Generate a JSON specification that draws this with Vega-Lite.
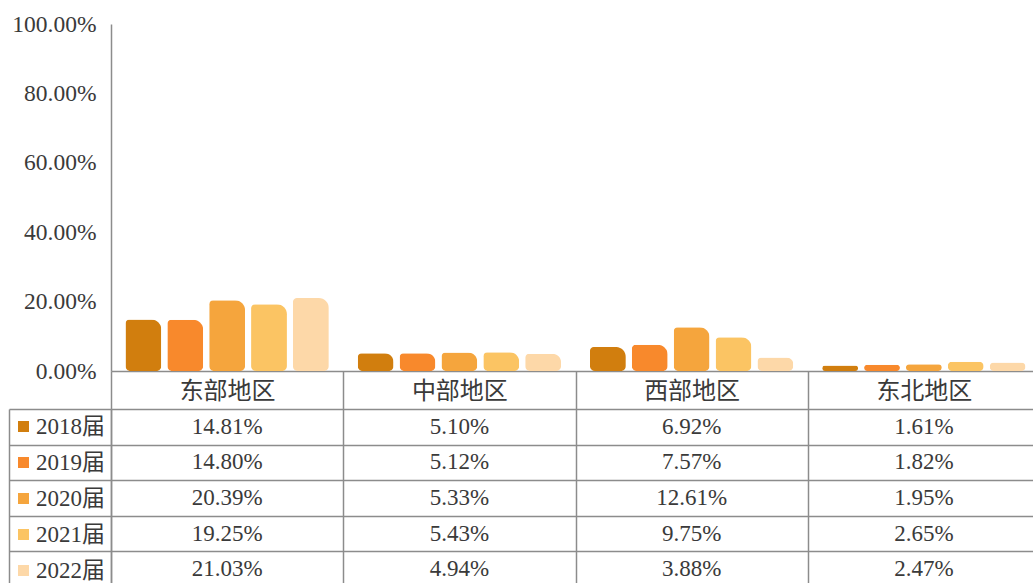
{
  "$schema": "https://vega.github.io/schema/vega-lite/v6.json",
  "background": "white",
  "padding": {"left": 8, "top": 12, "right": 0, "bottom": 0},
  "bounds": "flush",
  "spacing": 38,
  "data": {
    "values": [
      {"region": "东部地区", "year": "2018届", "value": 0.1481},
      {"region": "东部地区", "year": "2019届", "value": 0.1480},
      {"region": "东部地区", "year": "2020届", "value": 0.2039},
      {"region": "东部地区", "year": "2021届", "value": 0.1925},
      {"region": "东部地区", "year": "2022届", "value": 0.2103},
      {"region": "中部地区", "year": "2018届", "value": 0.0510},
      {"region": "中部地区", "year": "2019届", "value": 0.0512},
      {"region": "中部地区", "year": "2020届", "value": 0.0533},
      {"region": "中部地区", "year": "2021届", "value": 0.0543},
      {"region": "中部地区", "year": "2022届", "value": 0.0494},
      {"region": "西部地区", "year": "2018届", "value": 0.0692},
      {"region": "西部地区", "year": "2019届", "value": 0.0757},
      {"region": "西部地区", "year": "2020届", "value": 0.1261},
      {"region": "西部地区", "year": "2021届", "value": 0.0975},
      {"region": "西部地区", "year": "2022届", "value": 0.0388},
      {"region": "东北地区", "year": "2018届", "value": 0.0161},
      {"region": "东北地区", "year": "2019届", "value": 0.0182},
      {"region": "东北地区", "year": "2020届", "value": 0.0195},
      {"region": "东北地区", "year": "2021届", "value": 0.0265},
      {"region": "东北地区", "year": "2022届", "value": 0.0247}
    ]
  },
  "resolve": {"legend": {"color": "independent"}},
  "vconcat": [
    {
      "width": 929,
      "height": 347,
      "mark": {
        "type": "bar",
        "cornerRadiusTopLeft": 4,
        "cornerRadiusTopRight": 10,
        "cornerRadiusBottomLeft": 5,
        "cornerRadiusBottomRight": 5
      },
      "encoding": {
        "x": {
          "field": "region",
          "type": "nominal",
          "sort": ["东部地区", "中部地区", "西部地区", "东北地区"],
          "scale": {"paddingInner": 0, "paddingOuter": 0},
          "axis": {
            "title": null,
            "labelAngle": 0,
            "labelFont": "Noto Sans CJK SC",
            "labelFontSize": 24,
            "labelColor": "#3a3a3a",
            "labelPadding": -30,
            "tickBand": "extent",
            "tickSize": 38,
            "tickColor": "#8c8c8c",
            "tickWidth": 1.5,
            "domainColor": "#8c8c8c",
            "domainWidth": 1.5,
            "grid": false,
            "minExtent": 38,
            "maxExtent": 38
          }
        },
        "xOffset": {
          "field": "year",
          "type": "nominal",
          "scale": {"paddingInner": 0.143, "paddingOuter": 0.345}
        },
        "y": {
          "field": "value",
          "type": "quantitative",
          "scale": {"domain": [0, 1], "nice": false},
          "axis": {
            "title": null,
            "values": [0, 0.2, 0.4, 0.6, 0.8, 1],
            "format": ".2%",
            "labelFont": "Liberation Serif",
            "labelFontSize": 23.5,
            "labelColor": "#3a3a3a",
            "labelPadding": 15,
            "ticks": false,
            "tickSize": 0,
            "grid": false,
            "domainColor": "#8c8c8c",
            "domainWidth": 1.5
          }
        },
        "color": {
          "field": "year",
          "type": "nominal",
          "scale": {
            "domain": ["2018届", "2019届", "2020届", "2021届", "2022届"],
            "range": ["#D17E0E", "#F8892C", "#F5A53D", "#FBC463", "#FDD8A8"]
          },
          "legend": {
            "orient": "none",
            "legendX": -99,
            "legendY": 391,
            "title": null,
            "symbolType": "square",
            "symbolSize": 121,
            "symbolStrokeWidth": 0,
            "symbolOpacity": 1,
            "labelFont": "Liberation Serif, Noto Sans CJK SC",
            "labelFontSize": 23,
            "labelColor": "#3a3a3a",
            "labelOffset": 1,
            "rowPadding": 12,
            "padding": 0
          }
        }
      }
    },
    {
      "width": 929,
      "height": 178,
      "encoding": {
        "x": {
          "field": "region",
          "type": "nominal",
          "sort": ["东部地区", "中部地区", "西部地区", "东北地区"],
          "scale": {"paddingInner": 0, "paddingOuter": 0},
          "axis": {
            "title": null,
            "labels": false,
            "ticks": false,
            "domain": false,
            "grid": true,
            "tickBand": "extent",
            "gridColor": "#8c8c8c",
            "gridWidth": 1.5,
            "gridOpacity": 1
          }
        },
        "y": {
          "field": "year",
          "type": "nominal",
          "sort": ["2018届", "2019届", "2020届", "2021届", "2022届"],
          "scale": {"paddingInner": 0, "paddingOuter": 0}
        }
      },
      "layer": [
        {
          "mark": {
            "type": "text",
            "font": "Liberation Serif",
            "fontSize": 23,
            "color": "#3a3a3a"
          },
          "encoding": {
            "text": {"field": "value", "type": "quantitative", "format": ".2%"},
            "y": {
              "field": "year",
              "type": "nominal",
              "sort": ["2018届", "2019届", "2020届", "2021届", "2022届"],
              "axis": {
                "title": null,
                "orient": "left",
                "labels": false,
                "ticks": true,
                "tickSize": 102,
                "tickBand": "extent",
                "tickColor": "#8c8c8c",
                "tickWidth": 1.5,
                "grid": true,
                "gridColor": "#8c8c8c",
                "gridWidth": 1.5,
                "gridOpacity": 1,
                "domain": true,
                "domainColor": "#8c8c8c",
                "domainWidth": 1.5
              }
            }
          }
        },
        {
          "mark": {"type": "text", "opacity": 0},
          "encoding": {
            "text": {"field": "value", "type": "quantitative", "format": ".2%"},
            "y": {
              "field": "year",
              "type": "nominal",
              "sort": ["2018届", "2019届", "2020届", "2021届", "2022届"],
              "axis": {
                "title": null,
                "orient": "left",
                "offset": 102,
                "labels": false,
                "ticks": false,
                "grid": false,
                "domain": true,
                "domainColor": "#8c8c8c",
                "domainWidth": 1.5
              }
            }
          }
        }
      ],
      "resolve": {"axis": {"y": "independent"}}
    }
  ],
  "config": {
    "view": {"stroke": null}
  }
}
